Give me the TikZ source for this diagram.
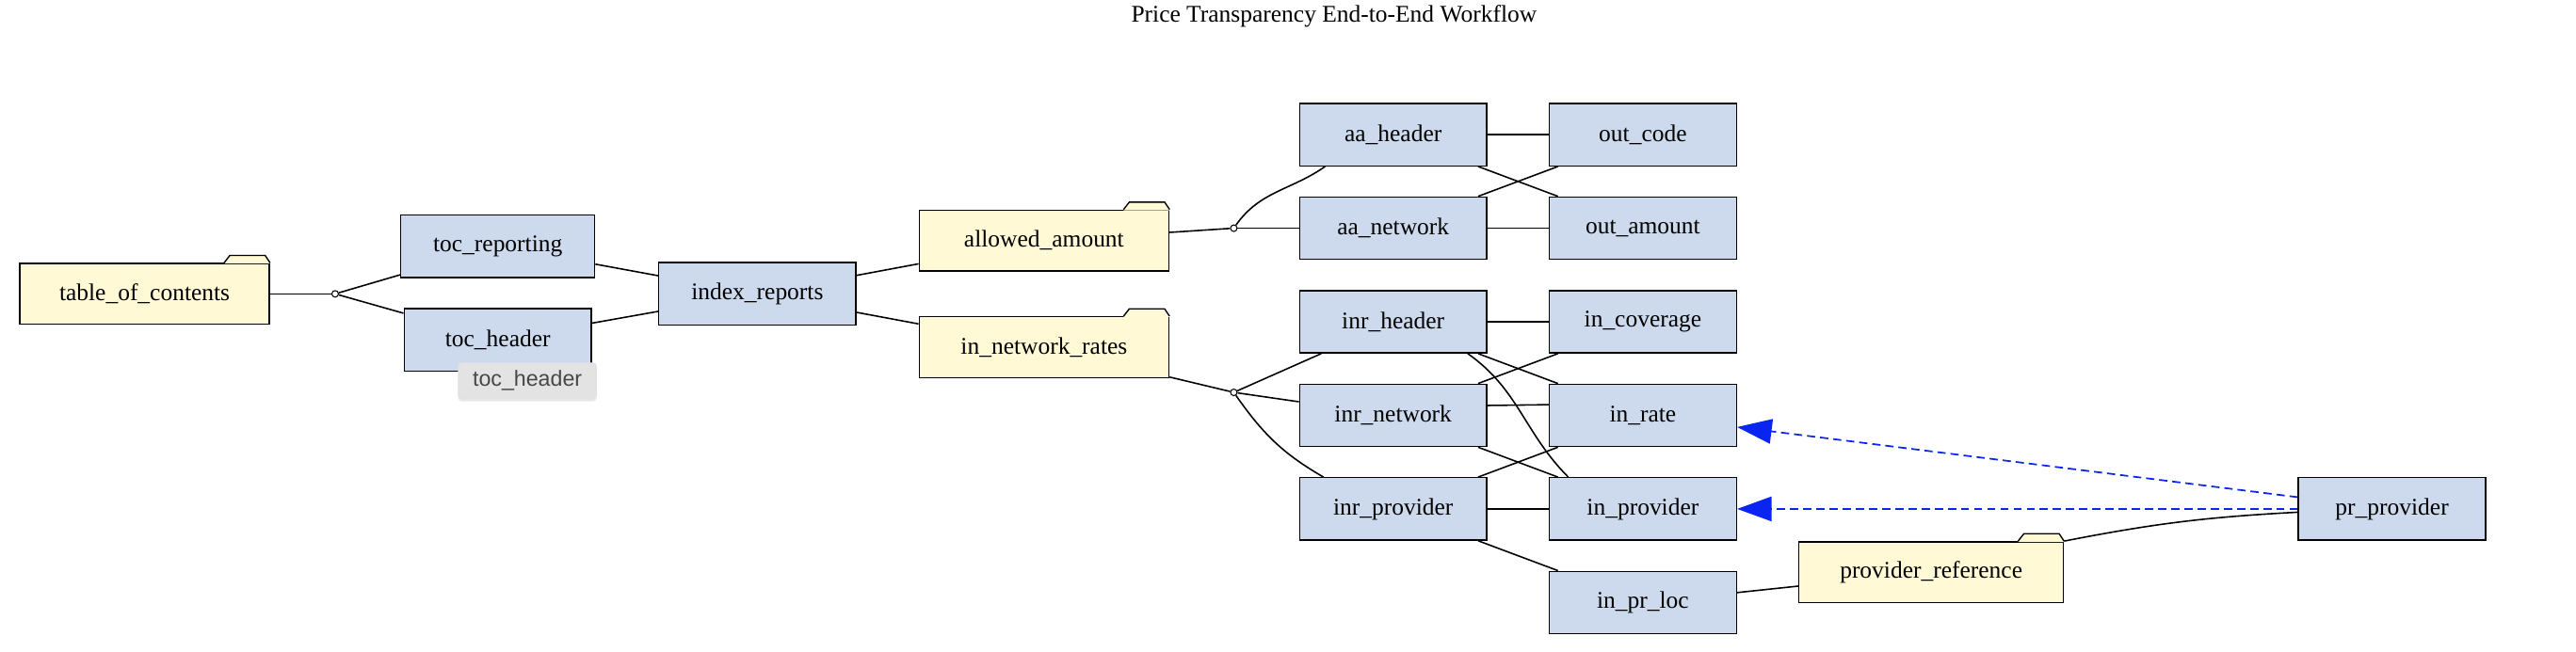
\documentclass[tikz,border=0pt]{standalone}
\usepackage{fontspec}
\setmainfont{Liberation Serif}
\setsansfont{Liberation Sans}
\usetikzlibrary{positioning, arrows.meta, shadows}
\definecolor{boxfill}{HTML}{CDDAED}
\definecolor{folderfill}{HTML}{FFF9D5}
\definecolor{refblue}{HTML}{0A24F2}
\definecolor{tipfill}{HTML}{E3E3E3}
\tikzset{
  tbl/.style={draw, line width=0.8pt, fill=boxfill, minimum width=114pt, minimum height=38pt, inner sep=0pt, font=\fontsize{14.6}{16}\selectfont},
  folder/.style={draw, line width=0.8pt, fill=folderfill, minimum width=152pt, minimum height=37pt, inner sep=0pt, font=\fontsize{14.6}{16}\selectfont},
  junction/.style={circle, draw, fill=white, line width=0.6pt, inner sep=0pt, minimum size=4pt},
  link/.style={line width=0.9pt},
  ref/.style={-{Triangle[length=21pt,width=15pt]}, refblue, line width=1pt, dash pattern=on 5pt off 3pt},
}

\begin{document}
\begin{tikzpicture}[node distance=57pt and 152pt, on grid]
        \useasboundingbox (0,0) rectangle (1568pt,-396.6pt);
        \node[font=\fontsize{14.6}{16}\selectfont] (title) at (812pt,-10pt) {Price Transparency End-to-End Workflow};

        % left part
        \node[folder] (table_of_contents) at (88pt,-179pt) {table\_of\_contents};
        \node[junction] (j_toc) at (204pt,-179pt) {};
        \node[tbl, minimum width=118pt] (toc_reporting) at (303pt,-150pt) {toc\_reporting};
        \node[tbl] (toc_header) at (303pt,-207pt) {toc\_header};
        \node[tbl, minimum width=120pt] (index_reports) at (461pt,-179pt) {index\_reports};
        \node[folder] (allowed_amount) at (635.5pt,-146.5pt) {allowed\_amount};
        \node[folder] (in_network_rates) at (635.5pt,-211.5pt) {in\_network\_rates};
        \node[junction] (j_aa) at (751pt,-139pt) {};
        \node[junction] (j_inr) at (751pt,-239pt) {};

        % right part
        \node[tbl] (aa_header) at (848pt,-82pt) {aa\_header};
        \node[tbl] (aa_network) [below=of aa_header] {aa\_network};
        \node[tbl] (inr_header) [below=of aa_network] {inr\_header};
        \node[tbl] (inr_network) [below=of inr_header] {inr\_network};
        \node[tbl] (inr_provider) [below=of inr_network] {inr\_provider};
        \node[tbl] (out_code) [right=of aa_header] {out\_code};
        \node[tbl] (out_amount) [below=of out_code] {out\_amount};
        \node[tbl] (in_coverage) [right=of inr_header] {in\_coverage};
        \node[tbl] (in_rate) [below=of in_coverage] {in\_rate};
        \node[tbl] (in_provider) [below=of in_rate] {in\_provider};
        \node[tbl] (in_pr_loc) [below=of in_provider] {in\_pr\_loc};
        \node[folder, minimum width=161pt] (provider_reference) at (1175.5pt,-348.5pt) {provider\_reference};
        \node[tbl] (pr_provider) [right=456pt of in_provider] {pr\_provider};

        % folder tabs
        \foreach \f in {table_of_contents, allowed_amount, in_network_rates, provider_reference} {
          \fill[folderfill] ([xshift=-28pt,yshift=-0.5pt]\f.north east) -- ++(3.5pt,5pt) -- ([xshift=-3pt,yshift=4.5pt]\f.north east) -- ([yshift=-0.5pt]\f.north east) -- cycle;
          \draw[line width=0.8pt] ([xshift=-28pt]\f.north east) -- ++(3.5pt,4.5pt) -- ([xshift=-3pt,yshift=4.5pt]\f.north east) -- (\f.north east);
        }

        \draw[link] (table_of_contents) -- (j_toc);
        \draw[link] (j_toc) -- (toc_reporting);
        \draw[link] (j_toc) -- (toc_header);
        \draw[link] (toc_reporting) -- (index_reports);
        \draw[link] (toc_header) -- (index_reports);
        \draw[link] (index_reports) -- (allowed_amount);
        \draw[link] (index_reports) -- (in_network_rates);
        \draw[link] (allowed_amount) -- (j_aa);
        \draw[link] (in_network_rates) -- (j_inr);

        \draw[link] (j_aa) to[out=55,in=215] ([xshift=16pt]aa_header.south west);
        \draw[link] (j_aa) -- (aa_network);
        \draw[link] (aa_header) -- (out_code);
        \draw[link] (aa_header) -- (out_amount);
        \draw[link] (aa_network) -- (out_code);
        \draw[link] (aa_network) -- (out_amount);

        \draw[link] (j_inr) -- (inr_header);
        \draw[link] (j_inr) -- (inr_network);
        \draw[link] (j_inr) to[out=-55,in=150] ([xshift=15pt]inr_provider.north west);
        \draw[link] (inr_header) -- (in_coverage);
        \draw[link] (inr_header) -- (in_rate);
        \draw[link] ([xshift=-12pt]inr_header.south east) to[out=-35,in=135] ([xshift=12pt]in_provider.north west);
        \draw[link] (inr_network) -- (in_coverage);
        \draw[link] ([yshift=6pt]inr_network.east) -- ([yshift=6.5pt]in_rate.west);
        \draw[link] (inr_network) -- (in_provider);
        \draw[link] (inr_provider) -- (in_rate);
        \draw[link] (inr_provider) -- (in_provider);
        \draw[link] (inr_provider) -- (in_pr_loc);
        \draw[link] (in_pr_loc) -- (provider_reference);
        \draw[link] (provider_reference.north east) to[bend left=4] ([yshift=-2pt]pr_provider.west);

        \draw[ref] (pr_provider) -- (in_rate);
        \draw[ref] (pr_provider) -- (in_provider);

        % tooltip
        \node[fill=tipfill, draw=black!12, rounded corners=2pt, minimum width=84pt, minimum height=22pt, inner sep=0pt, text=black!72, font=\sffamily\fontsize{13.3}{15}\selectfont, drop shadow={shadow xshift=0pt, shadow yshift=-1.5pt, opacity=0.18}] (tip) at (321pt,-232pt) {toc\_header};
\end{tikzpicture}
\end{document}
